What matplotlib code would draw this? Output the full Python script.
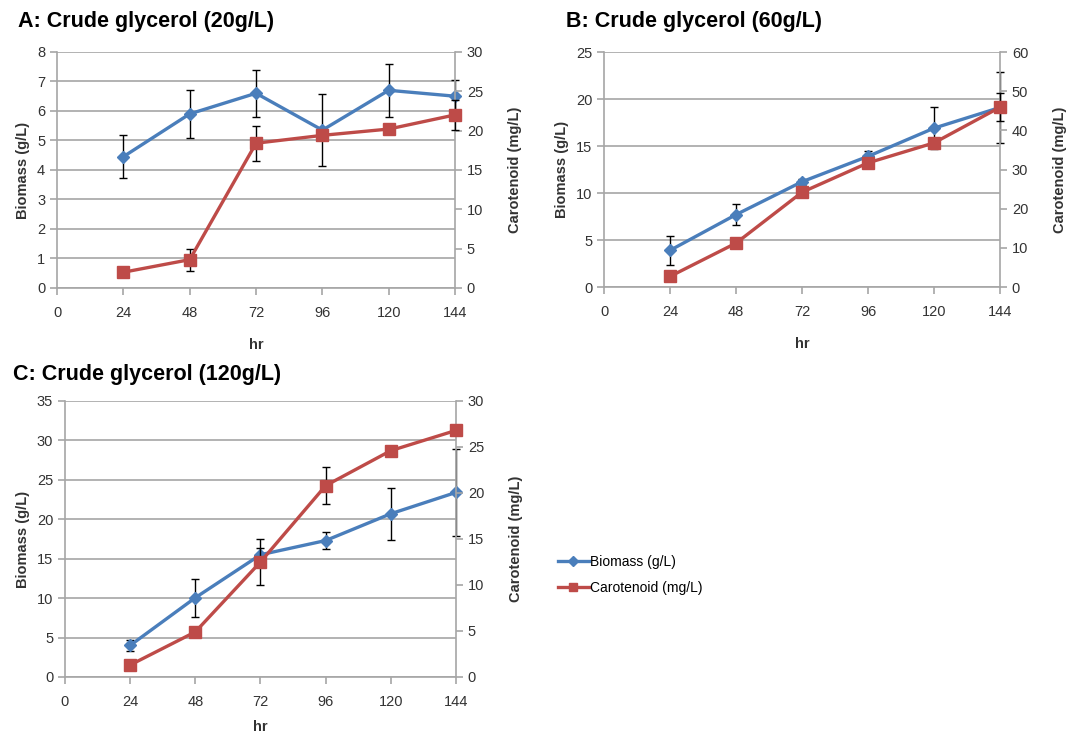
import matplotlib
matplotlib.use("Agg")
import matplotlib.pyplot as plt

plt.rcParams['font.family'] = ['Liberation Sans', 'DejaVu Sans']

hours = [24, 48, 72, 96, 120, 144]
x_ticks = [0, 24, 48, 72, 96, 120, 144]

# Panel A: crude glycerol 20 g/L
bio_a = [4.45, 5.9, 6.6, 5.35, 6.7, 6.5]
bio_a_err = [0.72, 0.8, 0.8, 1.23, 0.9, 0.55]
car_a = [2.0, 3.6, 18.4, 19.4, 20.2, 22.0]
car_a_err = [0.3, 1.4, 2.2, 0.5, 0.4, 1.9]

# Panel B: crude glycerol 60 g/L
bio_b = [3.9, 7.7, 11.2, 13.9, 16.9, 19.1]
bio_b_err = [1.55, 1.15, 0.3, 0.6, 2.2, 3.8]
car_b = [2.7, 11.2, 24.2, 31.7, 36.8, 45.9]
car_b_err = [0.5, 0.8, 0.8, 0.8, 1.0, 3.6]

# Panel C: crude glycerol 120 g/L
bio_c = [4.0, 10.05, 15.5, 17.3, 20.7, 23.4]
bio_c_err = [0.7, 2.4, 0.8, 1.05, 3.3, 5.5]
car_c = [1.3, 4.9, 12.5, 20.8, 24.6, 26.8]
car_c_err = [0.5, 0.3, 2.5, 2.0, 0.3, 0.5]

BLUE = '#4A7EBB'
RED = '#BE4B48'
GRID = '#A6A6A6'
TXT = '#333333'

fig = plt.figure(figsize=(10.74, 7.38), dpi=100)


def unclip(container):
    for art in container.get_children():
        art.set_clip_on(False)


def panel(rect, title, title_xy, bio, bio_err, bio_lim, bio_ticks,
          car, car_err, car_lim, car_ticks, hr_pad=13):
    ax = fig.add_axes(rect)
    ax2 = ax.twinx()
    ax.set_xlim(0, 144)
    ax.set_ylim(*bio_lim)
    ax2.set_ylim(*car_lim)
    ax.set_xticks(x_ticks)
    ax.set_yticks(bio_ticks)
    ax2.set_yticks(car_ticks)
    ax.yaxis.grid(True, color=GRID, lw=1.2)
    ax.set_axisbelow(True)
    for a in (ax, ax2):
        a.spines['top'].set_visible(False)
        for s in ('left', 'right', 'bottom'):
            a.spines[s].set_color(GRID)
            a.spines[s].set_linewidth(1.2)
        a.tick_params(axis='both', colors=GRID, labelcolor=TXT,
                      labelsize=10.5, length=5, width=1.2, direction='out')
    ax.spines['right'].set_visible(False)
    ax2.spines['left'].set_visible(False)
    ax2.spines['bottom'].set_visible(False)
    ax.tick_params(axis='x', pad=8)

    eb = ax.errorbar(hours, bio, yerr=bio_err, fmt='none', ecolor='black',
                     elinewidth=1.0, capsize=3, capthick=1.0, zorder=3)
    unclip(eb)
    ax.plot(hours, bio, color=BLUE, lw=2.4, marker='D', markersize=6.5,
            markerfacecolor=BLUE, markeredgecolor=BLUE, zorder=4,
            label='Biomass (g/L)', clip_on=False)
    eb2 = ax2.errorbar(hours, car, yerr=car_err, fmt='none', ecolor='black',
                       elinewidth=1.0, capsize=3, capthick=1.0, zorder=3)
    unclip(eb2)
    ax2.plot(hours, car, color=RED, lw=2.4, marker='s', markersize=8,
             markerfacecolor=RED, markeredgecolor=RED, zorder=4,
             label='Carotenoid (mg/L)', clip_on=False)

    ax.set_xlabel('hr', fontsize=10.5, fontweight='bold', color=TXT, labelpad=hr_pad)
    ax.set_ylabel('Biomass (g/L)', fontsize=10.5, fontweight='bold', color=TXT, labelpad=5)
    ax2.set_ylabel('Carotenoid (mg/L)', fontsize=10.5, fontweight='bold', color=TXT, labelpad=18)
    fig.text(title_xy[0], title_xy[1], title, fontsize=15.5, fontweight='bold',
             color='black', ha='left', va='center')
    return ax, ax2


axA, axA2 = panel([0.0531, 0.6098, 0.3706, 0.3198], 'A: Crude glycerol (20g/L)',
                  (0.017, 0.971), bio_a, bio_a_err, (0, 8), range(0, 9),
                  car_a, car_a_err, (0, 30), range(0, 31, 5))
axB, axB2 = panel([0.5624, 0.6111, 0.3687, 0.3184], 'B: Crude glycerol (60g/L)',
                  (0.527, 0.971), bio_b, bio_b_err, (0, 25), range(0, 26, 5),
                  car_b, car_b_err, (0, 60), range(0, 61, 10))
axC, axC2 = panel([0.0605, 0.0827, 0.3641, 0.3740], 'C: Crude glycerol (120g/L)',
                  (0.012, 0.493), bio_c, bio_c_err, (0, 35), range(0, 36, 5),
                  car_c, car_c_err, (0, 30), range(0, 31, 5), hr_pad=8)

h1, l1 = axC.get_legend_handles_labels()
h2, l2 = axC2.get_legend_handles_labels()
fig.legend(h1 + h2, l1 + l2, loc='center left', bbox_to_anchor=(0.508, 0.221),
           frameon=False, fontsize=10, handlelength=2.2, handletextpad=0.1,
           labelspacing=0.85, markerscale=0.75)

fig.savefig('out.png', dpi=100)
